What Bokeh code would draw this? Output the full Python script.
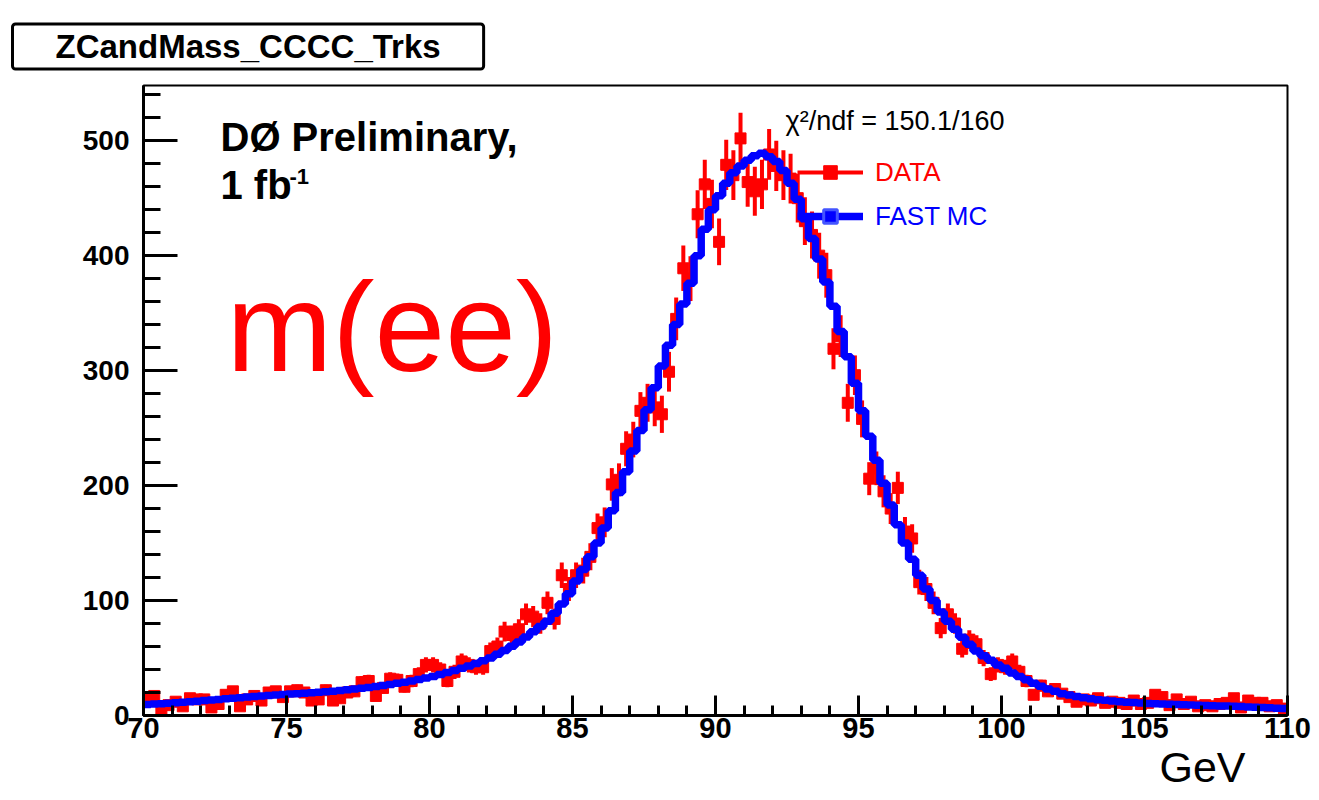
import numpy as np
from bokeh.plotting import figure
from bokeh.models import FixedTicker, Label, Legend, LegendItem, Range1d, ColumnDataSource, Title
from bokeh.embed import file_html
from bokeh.resources import INLINE

# ---------------- data ----------------
X_MIN, X_MAX = 70.0, 110.0
BIN_WIDTH = 0.25
Y_MIN, Y_MAX = 0, 548

data_counts = [
    15, 17, 6, 9,      12, 8, 15, 14,     14, 7, 10, 18,     21, 8, 14, 17,
    13, 20, 21, 16,    21, 22, 20, 13,    14, 22, 13, 15,    20, 21, 29, 30,
    17, 24, 32, 31,    25, 30, 36, 44,    44, 40, 30, 38,    47, 44, 42, 42,
    56, 60, 73, 70,    75, 88, 86, 80,    98, 84, 122, 110,  122, 126, 138, 163,
    168, 201, 205, 232, 240, 265, 272, 268, 262, 299, 345, 389, 380, 436, 462, 445,
    412, 479, 470, 502, 464, 456, 462, 488, 478, 470, 467, 450, 430, 418, 400, 383,
    319, 330, 272, 296, 258, 206, 215, 195, 180, 198, 160, 154, 116, 110, 98, 76,
    88, 80, 58, 66,    62, 50, 36, 44,    42, 47, 38, 30,    18, 26, 21, 23,
    19, 16, 12, 14,    13, 15, 11, 12,    11, 10, 13, 10,    11, 18, 16, 9,
    14, 10, 12, 8,     9, 8, 10, 11,      15, 7, 13, 11,     11, 8, 9, 6,
]

mc_counts = [
    9.6, 9.9, 10.2, 10.6,  11.0, 11.5, 12.0, 12.5,  13.0, 13.5, 14.0, 14.5,  15.0, 15.5, 16.0, 16.5,
    17.0, 17.4, 17.8, 18.2, 18.6, 19.0, 19.4, 19.8, 20.2, 20.7, 21.2, 21.7,  22.3, 23.0, 23.7, 24.4,
    25.2, 26.1, 27.0, 28.0, 29.0, 30.1, 31.3, 32.6, 34.0, 35.6, 37.3, 39.1,  41.0, 43.1, 45.3, 47.6,
    50.0, 53.2, 56.6, 60.2, 64.0, 68.3, 72.8, 77.4, 82, 89, 97, 106,         117, 127, 138, 150,
    163, 178, 194, 212,    230, 248, 266, 285,      304, 322, 340, 358,      376, 400, 423, 440,
    452, 463, 472, 478,    483, 487, 489, 486,      482, 474, 463, 449,      432, 415, 397, 377,
    356, 334, 312, 289,    265, 243, 222, 202,      183, 166, 150, 136,      122, 110, 100, 90,
    82, 75, 68, 62,        56, 52, 48, 44,          41, 37, 34, 31,          28, 25.5, 23, 21,
    19, 17.8, 16.5, 15.5,  14.5, 13.8, 13.2, 12.6,  12.0, 11.6, 11.2, 10.8,  10.5, 10.2, 10.0, 9.7,
    9.5, 9.3, 9.1, 8.9,    8.7, 8.5, 8.3, 8.2,      8.0, 7.8, 7.5, 7.2,      7.0, 6.7, 6.4, 6.1,
]

x_major_ticks = [70, 75, 80, 85, 90, 95, 100, 105, 110]
x_minor_ticks = list(range(70, 111))
y_major_ticks = [0, 100, 200, 300, 400, 500]
y_minor_ticks = list(range(0, 560, 20))

title_text = "ZCandMass_CCCC_Trks"
chi2_text = "\u03c7\u00b2/ndf = 150.1/160"
legend_labels = ["DATA", "FAST MC"]
x_unit = "GeV"

# ---------------- layout helpers ----------------
W, H = 1319, 800
FL, FR, FT, FB = 143, 1287, 85, 715   # frame edges in pixels
FONT = "Liberation Sans"


def px_x(px):
    return X_MIN + (px - FL) * (X_MAX - X_MIN) / (FR - FL)


def px_y(py):
    return Y_MIN + (FB - py) * (Y_MAX - Y_MIN) / (FB - FT)


n = len(data_counts)
edges = X_MIN + BIN_WIDTH * np.arange(n + 1)
centers = edges[:-1] + BIN_WIDTH / 2
data = np.array(data_counts, dtype=float)
err = np.sqrt(data)

p = figure(width=W, height=H, x_range=Range1d(X_MIN, X_MAX), y_range=Range1d(Y_MIN, Y_MAX),
           output_backend="svg", toolbar_location=None,
           min_border_left=FL, min_border_right=W - FR, min_border_top=FT, min_border_bottom=H - FB)
p.grid.visible = False
p.outline_line_color = "black"
p.outline_line_width = 2
p.background_fill_color = "white"
p.border_fill_color = "white"

src = ColumnDataSource(dict(x=centers, y=data, lo=data - err, hi=data + err))
r_err = p.segment(x0="x", y0="lo", x1="x", y1="hi", source=src, line_color="#ff0000", line_width=4)
r_pts = p.scatter("x", "y", source=src, marker="square", size=11, color="#ff0000")

mc_src = ColumnDataSource(dict(x=centers, y=mc_counts))
r_mcm = p.scatter("x", "y", source=mc_src, marker="square", size=1, fill_color="#0000ff",
                  line_color="#4455ff", line_width=3)
mc_y = list(mc_counts) + [mc_counts[-1]]
r_mc = p.step(x=edges, y=mc_y, mode="after", line_color="#0000ff", line_width=7.5)

# axes
for ax in (p.xaxis[0], p.yaxis[0]):
    ax.axis_line_width = 3
    ax.major_tick_line_width = 3
    ax.minor_tick_line_width = 3
    ax.major_tick_out = 0
    ax.minor_tick_out = 0
    ax.major_label_text_font = FONT
    ax.major_label_text_font_style = "bold"
    ax.major_label_text_color = "black"
    ax.axis_line_color = "black"
    ax.major_tick_line_color = "black"
    ax.minor_tick_line_color = "black"

p.xaxis.ticker = FixedTicker(ticks=x_major_ticks, minor_ticks=x_minor_ticks)
p.yaxis.ticker = FixedTicker(ticks=y_major_ticks, minor_ticks=y_minor_ticks)
p.xaxis.major_tick_in = 20
p.xaxis.minor_tick_in = 10
p.yaxis.major_tick_in = 34
p.yaxis.minor_tick_in = 17
p.xaxis.major_label_text_font_size = "29px"
p.yaxis.major_label_text_font_size = "28px"
p.xaxis.major_label_standoff = 2
p.yaxis.major_label_standoff = 14

# title box (above panel)
p.title.text = title_text
p.title.align = "left"
p.title.vertical_align = "bottom"
p.title.offset = 12 - FL
p.title.standoff = 33
p.title.text_font = FONT
p.title.text_font_style = "bold"
p.title.text_font_size = "33px"
p.title.text_color = "black"
p.title.border_line_color = "black"
p.title.border_line_width = 3
p.title.border_radius = 3
p.title.background_fill_color = "white"
p.title.padding = (43, 4)

# unit below the x axis
p.add_layout(Title(text=x_unit, align="right", vertical_align="bottom", offset=FR - 1245, standoff=0,
                   text_font=FONT, text_font_style="normal", text_font_size="43px",
                   text_color="black"), "below")

# text annotations in the frame (baseline = bottom of the text box)
p.add_layout(Label(x=px_x(220), y=px_y(158), text="D\u00d8 Preliminary,", text_font=FONT,
                   text_font_style="bold", text_font_size="40px", text_color="black"))
p.add_layout(Label(x=px_x(220), y=px_y(206), text="1 fb", text_font=FONT,
                   text_font_style="bold", text_font_size="40px", text_color="black"))
p.add_layout(Label(x=px_x(289), y=px_y(183), text="-1", text_font=FONT,
                   text_font_style="bold", text_font_size="22px", text_color="black"))
p.add_layout(Label(x=px_x(226), y=px_y(397), text="m(ee)", text_font=FONT,
                   text_font_size="127px", text_color="#ff0000"))
p.add_layout(Label(x=px_x(785), y=px_y(135), text=chi2_text, text_font=FONT,
                   text_font_size="27px", text_color="black"))

# legends (two, for different label colours)
common = dict(glyph_width=66, glyph_height=34, label_height=34, label_standoff=12, padding=0, margin=0,
              border_line_color=None, background_fill_alpha=0, label_text_font=FONT,
              label_text_font_size="26px", spacing=0)
leg1 = Legend(items=[LegendItem(label=legend_labels[0], renderers=[r_err, r_pts])],
              location=(797 - FL, FB - 189), label_text_color="#ff0000", **common)
leg2 = Legend(items=[LegendItem(label=legend_labels[1], renderers=[r_mc, r_mcm])],
              location=(797 - FL, FB - 233), label_text_color="#0000ff", **common)
p.add_layout(leg1)
p.add_layout(leg2)

open("out.html", "w").write(file_html(p, INLINE))
